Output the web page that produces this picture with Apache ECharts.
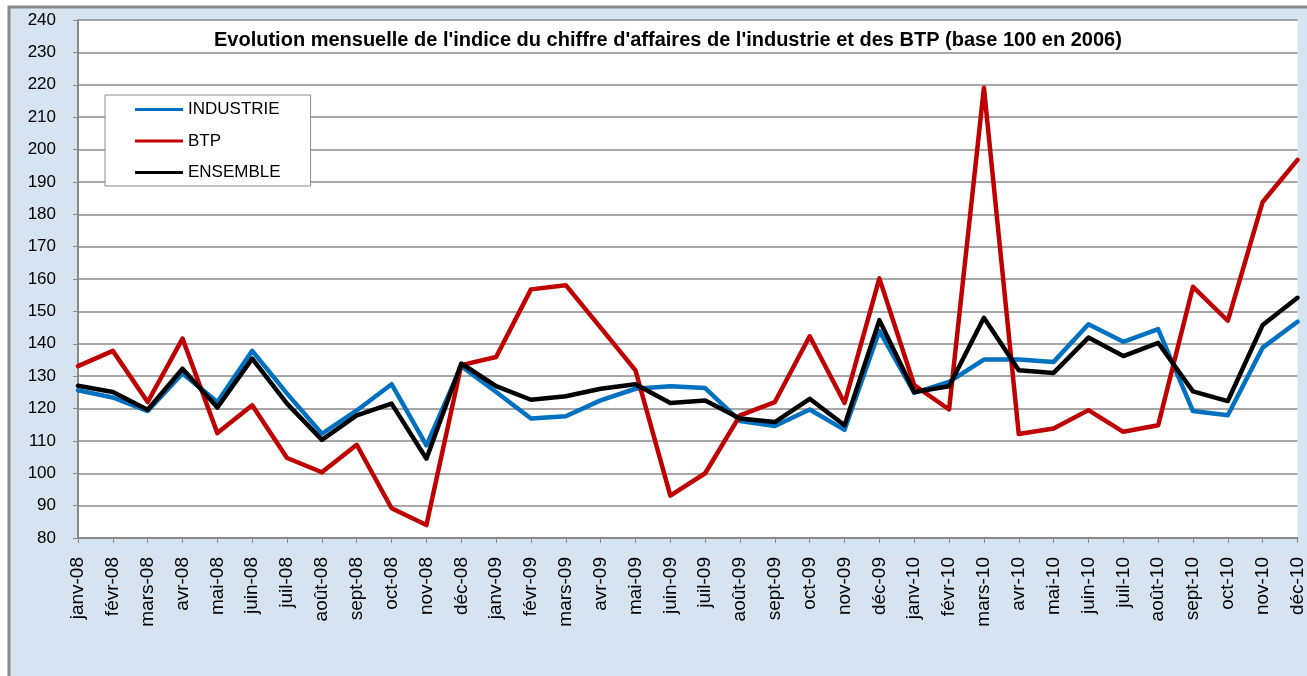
<!DOCTYPE html>
<html>
<head>
<meta charset="utf-8">
<script src="https://cdn.jsdelivr.net/npm/echarts@6/dist/echarts.min.js"></script>
<style>
html,body{margin:0;padding:0;background:#fff;}
#chart{width:1307px;height:676px;}
</style>
</head>
<body>
<div id="chart"></div>
<script>
const categories = [
  'janv-08','févr-08','mars-08','avr-08','mai-08','juin-08','juil-08','août-08','sept-08','oct-08','nov-08','déc-08',
  'janv-09','févr-09','mars-09','avr-09','mai-09','juin-09','juil-09','août-09','sept-09','oct-09','nov-09','déc-09',
  'janv-10','févr-10','mars-10','avr-10','mai-10','juin-10','juil-10','août-10','sept-10','oct-10','nov-10','déc-10'
];
const industrie = [125.6,123.4,119.2,130.8,122.0,137.8,124.6,112.2,119.4,127.5,108.6,133.1,
  125.1,116.9,117.6,122.5,126.1,126.9,126.3,116.1,114.6,119.7,113.4,144.0,
  124.8,128.2,135.1,135.1,134.4,146.0,140.6,144.5,119.2,117.9,138.8,146.8];
const btp = [133.1,137.8,122.0,141.6,112.4,121.0,104.7,100.3,108.8,89.2,84.0,133.4,
  135.9,156.8,158.1,145.0,131.8,93.1,100.0,117.9,122.0,142.3,121.7,160.2,
  127.2,119.7,219.1,112.1,113.8,119.5,112.8,114.8,157.6,147.1,183.8,196.8];
const ensemble = [127.0,125.1,119.6,132.3,120.3,135.4,121.5,110.3,117.9,121.5,104.5,133.9,
  126.9,122.7,123.8,126.1,127.5,121.7,122.5,116.9,115.8,123.0,114.8,147.3,
  125.1,126.9,148.0,131.8,131.0,141.9,136.2,140.3,125.3,122.3,145.8,154.2];
const seriesNames = ['INDUSTRIE','BTP','ENSEMBLE'];
const seriesColors = ['#0070C0','#C00000','#000000'];
const titleText = "Evolution mensuelle de l'indice du chiffre d'affaires de l'industrie et des BTP (base 100 en 2006)";

const font = '"Liberation Sans", Arial, sans-serif';
const chart = echarts.init(document.getElementById('chart'), null, {renderer:'canvas'});
const dataSets = [industrie, btp, ensemble];
chart.setOption({
  backgroundColor: '#ffffff',
  animation: false,
  graphic: [{
    type: 'rect', z: -10, silent: true,
    shape: {x: 9, y: 7, width: 1320, height: 690},
    style: {fill: '#d6e4f2', stroke: '#8a8a8a', lineWidth: 3}
  }],
  title: {
    text: titleText,
    left: 209, top: 25,
    textStyle: {fontFamily: font, fontWeight: 'bold', fontSize: 20, color: '#000'}
  },
  legend: {
    orient: 'vertical', left: 105, top: 95,
    padding: [6, 30, 5, 30],
    itemGap: 14.5, itemWidth: 48, itemHeight: 3,
    icon: 'rect',
    backgroundColor: '#ffffff', borderColor: '#8a8a8a', borderWidth: 1,
    textStyle: {fontFamily: font, fontSize: 17, color: '#000', lineHeight: 17},
    data: seriesNames
  },
  grid: {left: 78, right: 7, top: 20, bottom: 138, show: true, backgroundColor: '#ffffff', borderWidth: 0},
  xAxis: {
    type: 'category', data: categories, boundaryGap: false,
    axisLine: {show: true, lineStyle: {color: '#8a8a8a', width: 2}},
    axisTick: {show: true, length: 5, interval: 0, lineStyle: {color: '#8a8a8a'}},
    axisLabel: {interval: 0, rotate: 90, margin: 19, fontFamily: font, fontSize: 19, color: '#000'},
    splitLine: {show: false}
  },
  yAxis: {
    type: 'value', min: 80, max: 240, interval: 10,
    axisLine: {show: true, lineStyle: {color: '#8a8a8a', width: 2}},
    axisTick: {show: true, length: 5, lineStyle: {color: '#8a8a8a'}},
    axisLabel: {margin: 22, fontFamily: font, fontSize: 17, color: '#000'},
    splitLine: {show: true, lineStyle: {color: '#8a8a8a', width: 1.5}}
  },
  series: seriesNames.map((n, i) => ({
    name: n, type: 'line', data: dataSets[i],
    showSymbol: false, symbol: 'none',
    color: seriesColors[i],
    lineStyle: {width: 4.5, color: seriesColors[i], cap: 'round', join: 'round'},
    z: 2 + i
  }))
});
</script>
</body>
</html>
